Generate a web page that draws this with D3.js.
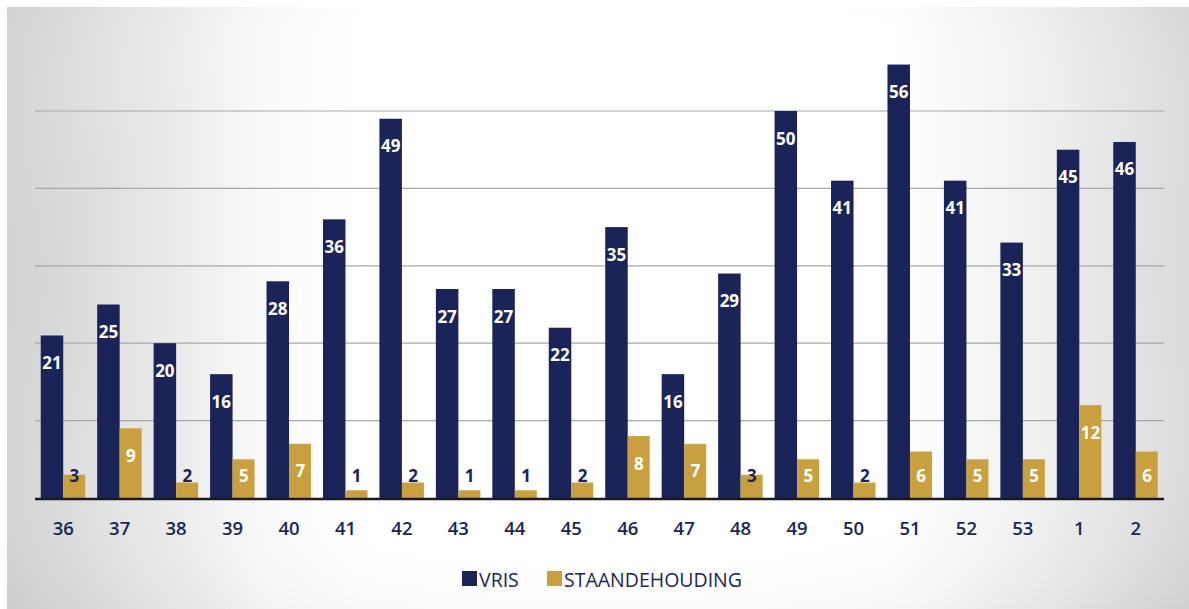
<!DOCTYPE html>
<html><head><meta charset="utf-8">
<script src="https://cdn.jsdelivr.net/npm/d3@7"></script>
<style>html,body{margin:0;padding:0;background:#fff;}svg{display:block;}</style>
</head><body>
<script>
const weeks = ["36","37","38","39","40","41","42","43","44","45","46","47","48","49","50","51","52","53","1","2"];
const vris = [21,25,20,16,28,36,49,27,27,22,35,16,29,50,41,56,41,33,45,46];
const staandehouding = [3,9,2,5,7,1,2,1,1,2,8,7,3,5,2,6,5,5,12,6];
const seriesNames = ["VRIS","STAANDEHOUDING"];
const gridTicks = [10,20,30,40,50];

const W = 1189, H = 609;
const NAVY = "#1b2458", GOLD = "#c9a03f", TEXT = "#1d2650";
const svg = d3.select("body").append("svg").attr("width", W).attr("height", H);

const defs = svg.append("defs");
const lg = defs.append("linearGradient").attr("id","bg").attr("x1","0").attr("x2","1").attr("y1","0").attr("y2","0");
[[0,"#cfcfd0"],[0.1,"#e3e3e4"],[0.22,"#fafafa"],[0.3,"#ffffff"],[0.75,"#ffffff"],[0.88,"#efeff0"],[1,"#d8d8da"]]
  .forEach(([o,c]) => lg.append("stop").attr("offset",o).attr("stop-color",c));
const rg = defs.append("radialGradient").attr("id","bg2").attr("cx","0.5").attr("cy","0.45").attr("r","0.75");
[[0,"rgba(255,255,255,0)"],[0.6,"rgba(255,255,255,0)"],[1,"rgba(200,200,202,0.55)"]]
  .forEach(([o,c]) => rg.append("stop").attr("offset",o).attr("stop-color",c));

svg.append("rect").attr("x",7).attr("y",7).attr("width",W-7).attr("height",H-7).attr("fill","url(#bg)");
svg.append("rect").attr("x",7).attr("y",7).attr("width",W-7).attr("height",H-7).attr("fill","url(#bg2)");

const x = d3.scaleBand().domain(weeks).range([35, 1164]).padding(0);
const y = d3.scaleLinear().domain([0, 60]).range([498, 33.6]);
const bw = 22.5;

// gridlines
svg.append("g").selectAll("line").data(gridTicks).join("line")
  .attr("x1", 35).attr("x2", 1164)
  .attr("y1", d => y(d)).attr("y2", d => y(d))
  .attr("stroke", "#a7a8ab").attr("stroke-width", 1.2);

const data = weeks.map((w,i) => ({w, v: vris[i], s: staandehouding[i]}));

// VRIS bars
svg.append("g").selectAll("rect").data(data).join("rect")
  .attr("x", d => x(d.w) + x.bandwidth()/2 - bw)
  .attr("width", bw)
  .attr("y", d => y(d.v))
  .attr("height", d => y(0) - y(d.v))
  .attr("fill", NAVY);

// STAANDEHOUDING bars
svg.append("g").selectAll("rect").data(data).join("rect")
  .attr("x", d => x(d.w) + x.bandwidth()/2)
  .attr("width", bw - 0.5)
  .attr("y", d => y(d.s))
  .attr("height", d => y(0) - y(d.s))
  .attr("fill", GOLD);

// baseline
svg.append("line").attr("x1",35).attr("x2",1164).attr("y1",y(0)+1).attr("y2",y(0)+1)
  .attr("stroke","#1a1a1f").attr("stroke-width",2.6);

const font = "'Open Sans', 'DejaVu Sans', sans-serif";

// VRIS labels
svg.append("g").selectAll("text").data(data).join("text")
  .attr("x", d => x(d.w) + x.bandwidth()/2 - bw/2)
  .attr("y", d => y(d.v) + 27)
  .attr("dominant-baseline","central")
  .attr("text-anchor","middle")
  .attr("font-family", font).attr("font-weight", 700).attr("font-size", 17)
  .attr("fill", "#ffffff")
  .text(d => d.v);

// STAANDEHOUDING labels
svg.append("g").selectAll("text").data(data).join("text")
  .attr("x", d => x(d.w) + x.bandwidth()/2 + bw/2)
  .attr("y", d => Math.min(y(d.s) + 27, 475))
  .attr("dominant-baseline","central")
  .attr("text-anchor","middle")
  .attr("font-family", font).attr("font-weight", 700).attr("font-size", 17)
  .attr("fill", d => d.s >= 4 ? "#ffffff" : NAVY)
  .text(d => d.s);

// x axis labels
const xAxis = d3.axisBottom(x).tickSize(0).tickPadding(0);
const gx = svg.append("g").attr("transform", `translate(0,${y(0)})`).call(xAxis);
gx.select(".domain").remove();
gx.selectAll("text")
  .attr("y", 31).attr("dy", "0.35em")
  .attr("font-family", font).attr("font-weight", 600).attr("font-size", 18.5)
  .attr("fill", TEXT);

// legend
const legend = svg.append("g").attr("transform","translate(462,578)");
const items = [{name: seriesNames[0], color: NAVY, x: 0}, {name: seriesNames[1], color: GOLD, x: 85}];
items.forEach(it => {
  legend.append("rect").attr("x", it.x).attr("y", -7).attr("width", 15).attr("height", 15).attr("fill", it.color);
  legend.append("text").attr("x", it.x + 17).attr("y", 1).attr("dominant-baseline","central")
    .attr("font-family", font).attr("font-size", 19.5).attr("fill", TEXT).text(it.name);
});
</script>
</body></html>
